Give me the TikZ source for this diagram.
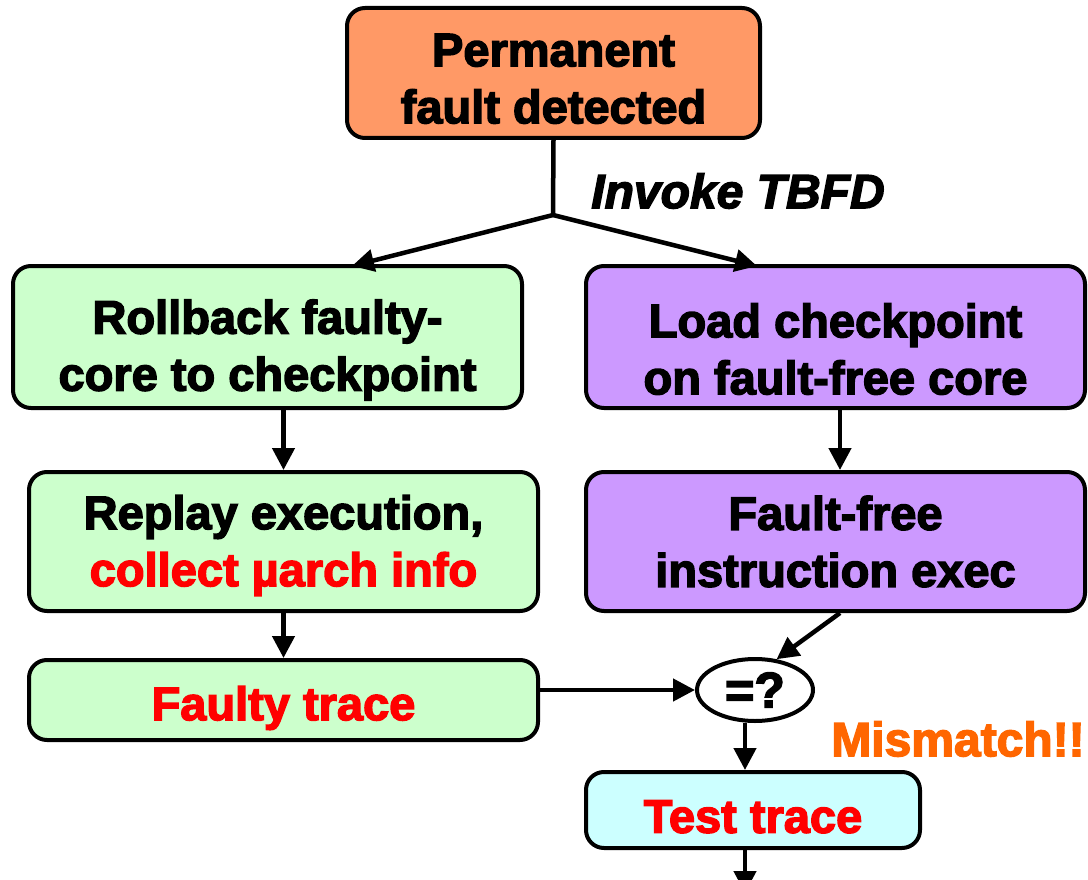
\documentclass[tikz,border=0pt]{standalone}
\usepackage{fontspec}
\setmainfont{Liberation Sans}[BoldFeatures={FakeBold=3},BoldItalicFeatures={FakeBold=3}]
\usetikzlibrary{arrows.meta,shapes.geometric}
\definecolor{topfill}{HTML}{FF9966}
\definecolor{greenfill}{HTML}{CCFFCC}
\definecolor{purplefill}{HTML}{CC99FF}
\definecolor{cyanfill}{HTML}{CCFFFF}
\definecolor{redtext}{HTML}{FF0000}
\definecolor{mismatch}{HTML}{FF6600}
\newcommand\upsp[1]{\rule{0pt}{#1}}
\begin{document}
\begin{tikzpicture}[x=1pt,y=-1pt,
  box/.style={draw, line width=4pt, rounded corners=18pt, align=center,
    font=\fontsize{47}{57}\selectfont\bfseries, inner sep=0pt},
  arr/.style={line width=4.5pt, -{Triangle[length=22pt,width=22pt]}},
  plain/.style={line width=4.5pt}]
\useasboundingbox (0,0) rectangle (1088,880);
\node[box, fill=topfill, minimum width=413pt, minimum height=130pt] (top) at (553.5,73) {\upsp{44pt}Permanent\\fault detected};
\node[box, fill=greenfill, minimum width=509pt, minimum height=142pt] (left1) at (267.5,337) {\upsp{60pt}Rollback faulty-\\core to checkpoint};
\node[box, fill=purplefill, minimum width=499pt, minimum height=142pt] (right1) at (835.5,337) {\upsp{58pt}Load checkpoint\\on fault-free core};
\node[box, fill=greenfill, minimum width=509pt, minimum height=139pt] (left2) at (283.5,541.5) {\upsp{42pt}Replay execution,\\\textcolor{redtext}{collect µarch info}};
\node[box, fill=purplefill, minimum width=499pt, minimum height=139pt] (right2) at (835.5,541.5) {Fault-free\\instruction exec};
\node[box, fill=greenfill, minimum width=509pt, minimum height=80pt, text=redtext] (faulty) at (283.5,700) {\upsp{50pt}Faulty trace};
\node[draw, line width=4pt, ellipse, minimum width=116pt, minimum height=62pt, inner sep=0pt,
  font=\fontsize{50}{54}\selectfont\bfseries] (eq) at (755,690) {=?};
\node[box, fill=cyanfill, minimum width=334pt, minimum height=76pt, text=redtext] (test) at (753,810) {\upsp{46pt}Test trace};
\node[font=\fontsize{48}{54}\selectfont\bfseries\itshape] (invoke) at (738,191) {Invoke TBFD};
\node[font=\fontsize{48}{54}\selectfont\bfseries, text=mismatch] (mm) at (958,739) {Mismatch!!};
\coordinate (j) at (553,215);
\coordinate (lt) at (352,266);
\coordinate (rt) at (757,266);
\coordinate (bot) at (745,893);
\draw[plain] (top.south) -- (j);
\draw[arr] (j) -- (lt);
\draw[arr] (j) -- (rt);
\draw[arr] (left1.south -| left2.north) -- (left2.north);
\draw[arr] ([xshift=4.5pt]right1.south) -- ([xshift=4.5pt]right2.north);
\draw[arr] (left2.south) -- (faulty.north);
\draw[arr] (faulty.east |- eq.west) -- (eq.west);
\draw[arr] ([xshift=4.5pt]right2.south) -- (eq.55);
\draw[arr] (eq.south -| bot) -- (test.north -| bot);
\draw[arr] (test.south -| bot) -- (bot);
\end{tikzpicture}
\end{document}
